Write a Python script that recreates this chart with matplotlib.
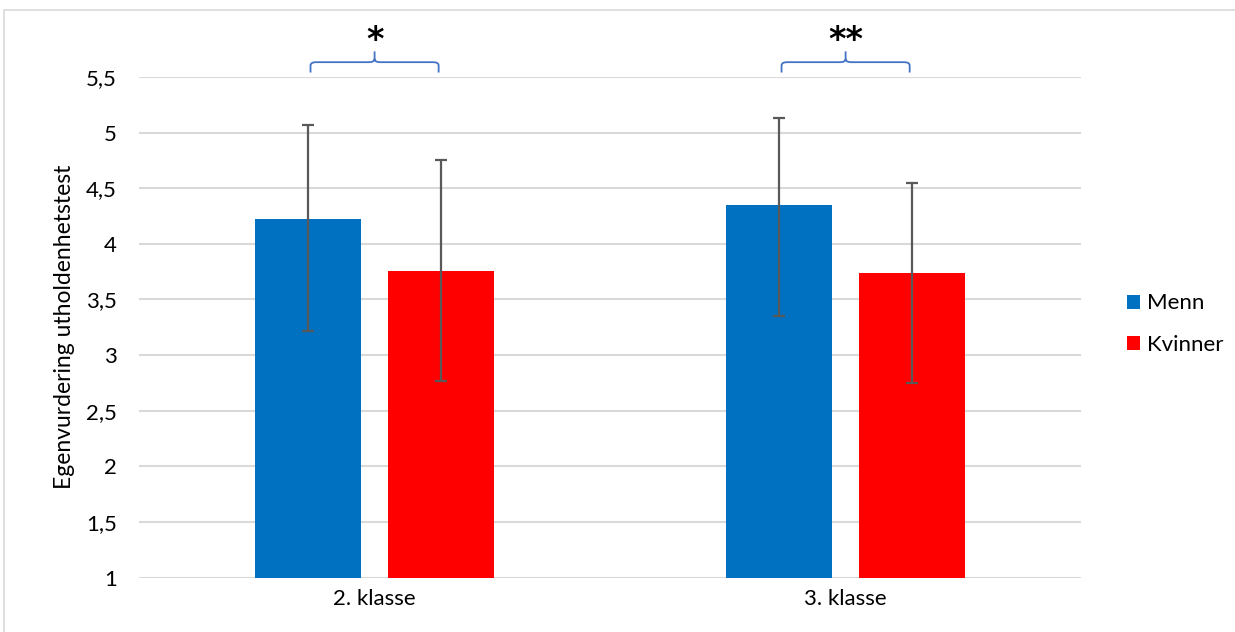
import matplotlib
matplotlib.use('Agg')
import matplotlib.pyplot as plt
import numpy as np
from matplotlib.path import Path
from matplotlib.patches import PathPatch, Patch, Rectangle

# --- data ---
classes = ['2. klasse', '3. klasse']
menn = [4.22, 4.35]
kvinner = [3.76, 3.74]
menn_err_low = [1.00, 1.00]
menn_err_high = [0.85, 0.78]
kvinner_err_low = [0.99, 0.99]
kvinner_err_high = [0.99, 0.81]
stars = ['*', '**']

plt.rcParams['font.family'] = ['Lato', 'DejaVu Sans']
fs = 16

fig = plt.figure(figsize=(12.35, 6.32), dpi=100)
ax = fig.add_axes([0.1126, 0.0862, 0.7628, 0.792])

# outer chart frame
fig.patches.append(Rectangle((4 / 1235, -0.1), 1.2, 1.1 - 10 / 632,
                             transform=fig.transFigure, fill=False,
                             edgecolor='#d9d9d9', linewidth=1.2))

x = np.arange(len(classes))
w = 0.225
off = 0.142
blue = '#0070C0'
red = '#FF0000'

ax.bar(x - off, np.array(menn) - 1, w, bottom=1, color=blue, zorder=2)
ax.bar(x + off, np.array(kvinner) - 1, w, bottom=1, color=red, zorder=2)
ax.errorbar(x - off, menn, yerr=[menn_err_low, menn_err_high], fmt='none',
            ecolor='#595959', elinewidth=1.6, capsize=4.3, capthick=1.6, zorder=3)
ax.errorbar(x + off, kvinner, yerr=[kvinner_err_low, kvinner_err_high], fmt='none',
            ecolor='#595959', elinewidth=1.6, capsize=4.3, capthick=1.6, zorder=3)

ax.set_xlim(-0.5, 1.5)
ax.set_ylim(1, 5.5)
yt = np.arange(1, 5.51, 0.5)
ax.set_yticks(yt)
ax.set_yticklabels([('%g' % v).replace('.', ',') for v in yt])
ax.set_xticks(x)
ax.set_xticklabels(classes, fontsize=fs + 0.5)
ax.tick_params(length=0, labelsize=fs, colors='black')
ax.tick_params(axis='y', pad=16)
ax.tick_params(axis='x', pad=8)
ax.yaxis.grid(True, color='#d9d9d9', linewidth=1.5, zorder=0)
ax.set_axisbelow(True)
for s in ax.spines.values():
    s.set_visible(False)
ax.set_ylabel('Egenvurdering utholdenhetstest', fontsize=fs + 0.5, labelpad=8)


# curly brackets with significance stars above each group
def brace(xc, half, yb, yh, ypk, r=0.012, ry=0.03):
    xl, xr = xc - half, xc + half
    verts = [(xl, yb), (xl, yh - ry), (xl, yh), (xl + r, yh),
             (xc - r, yh), (xc, yh), (xc, yh + ry),
             (xc, ypk),
             (xc, yh + ry), (xc, yh), (xc + r, yh),
             (xr - r, yh), (xr, yh), (xr, yh - ry), (xr, yb)]
    codes = [Path.MOVETO, Path.LINETO, Path.CURVE3, Path.CURVE3,
             Path.LINETO, Path.CURVE3, Path.CURVE3,
             Path.LINETO,
             Path.MOVETO, Path.CURVE3, Path.CURVE3,
             Path.LINETO, Path.CURVE3, Path.CURVE3, Path.LINETO]
    ax.add_patch(PathPatch(Path(verts, codes), fill=False, edgecolor='#4472C4',
                           linewidth=1.3, clip_on=False))


for i, s in enumerate(stars):
    brace(x[i], 0.136, 5.54, 5.633, 5.73)
    ax.text(x[i], 5.83, s, ha='center', va='center', fontsize=24,
            fontweight='bold', fontfamily='DejaVu Sans', clip_on=False)

handles = [Patch(facecolor=blue, label='Menn'), Patch(facecolor=red, label='Kvinner')]
fig.legend(handles=handles, loc='center left', bbox_to_anchor=(1116 / 1235, 1 - 324 / 632),
           frameon=False, fontsize=fs, handlelength=0.6, handleheight=0.6,
           handletextpad=0.3, labelspacing=0.95, borderpad=0)

fig.savefig('out.png', dpi=100)
